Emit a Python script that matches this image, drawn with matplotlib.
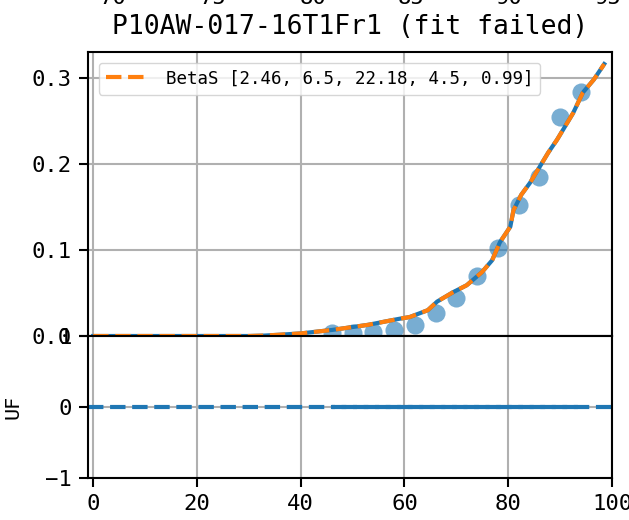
import matplotlib
matplotlib.use("Agg")
import matplotlib.pyplot as plt

plt.rcParams['font.family'] = ['DejaVu Sans Mono']
plt.rcParams['axes.unicode_minus'] = True

# measured points
x_obs = [46, 50, 54, 58, 62, 66, 70, 74, 78, 82, 86, 90, 94]
y_obs = [0.004, 0.003, 0.005, 0.007, 0.013, 0.027, 0.044, 0.070, 0.102, 0.152, 0.185, 0.255, 0.284]

# fitted BetaS curve
x_fit = [0, 30, 33, 36, 40, 46, 53, 59, 61, 64.5, 66.3, 69.4, 72, 74.9, 76.9, 78.4,
         80.4, 81, 82.5, 84.2, 86.1, 87.7, 89.4, 90.6, 92.5, 94.4, 96.5, 98.5]
y_fit = [0, 0, 0.0005, 0.0015, 0.003, 0.007, 0.013, 0.020, 0.022, 0.030, 0.040, 0.051,
         0.059, 0.074, 0.088, 0.109, 0.127, 0.146, 0.164, 0.178, 0.197, 0.213, 0.228,
         0.240, 0.259, 0.283, 0.298, 0.316]

# residuals (fit failed -> zero)
resid = [0, 0, 0, 0, 0, 0, 0, 0, 0, 0, 0, 0, 0]

fit_label = "BetaS [2.46, 6.5, 22.18, 4.5, 0.99]"
title = "P10AW-017-16T1Fr1 (fit failed)"
top_labels = ["70", "75", "80", "85", "90", "95"]
top_label_x = [113, 213, 313, 411, 509, 608]

W, H = 629, 520
fig = plt.figure(figsize=(W / 100, H / 100), dpi=100)
ax1 = fig.add_axes([88 / W, 184 / H, 524 / W, 284 / H])
ax2 = fig.add_axes([88 / W, 42 / H, 524 / W, 142 / H], sharex=ax1)

tick_kw = dict(labelsize=16, length=6.5, width=1.5, pad=5)
grid_kw = dict(color='#b0b0b0', linewidth=1.5)

ax1.scatter(x_obs, y_obs, s=170, color='C0', alpha=0.6, linewidths=0, zorder=2)
ax1.plot(x_fit, y_fit, color='C0', lw=3, zorder=3)
ax1.plot(x_fit, y_fit, color='C1', lw=3, ls='--', label=fit_label, zorder=4)
ax1.set_xlim(-1, 100)
ax1.set_ylim(0, 0.33)
ax1.set_yticks([0.0, 0.1, 0.2, 0.3])
ax1.grid(True, **grid_kw)
ax1.tick_params(axis='y', **tick_kw)
ax1.tick_params(axis='x', labelbottom=False, length=0)
ax1.set_title(title, fontsize=19, pad=13)
leg = ax1.legend(loc='upper left', fontsize=12.6, handlelength=2.5, handletextpad=0.95,
                 borderaxespad=0.6, framealpha=0.8)

ax2.axhline(0, color='C0', lw=3, ls='--')
ax2.plot(x_obs, resid, color='C0', lw=3, ls=(3, (3.7, 1.6)))
ax2.set_ylim(-1, 1)
ax2.set_yticks([-1, 0, 1])
ax2.set_xticks([0, 20, 40, 60, 80, 100])
ax2.grid(True, **grid_kw)
ax2.tick_params(axis='both', **tick_kw)
ax2.set_ylabel("UF", fontsize=14.5)
ax2.yaxis.set_label_coords(-0.125, 0.5)

for ax in (ax1, ax2):
    for sp in ax.spines.values():
        sp.set_linewidth(1.5)

for s, xp in zip(top_labels, top_label_x):
    fig.text(xp / W, 1 - 3.5 / H, s, ha='center', va='baseline', fontsize=16)

fig.savefig("out.png", dpi=100)
